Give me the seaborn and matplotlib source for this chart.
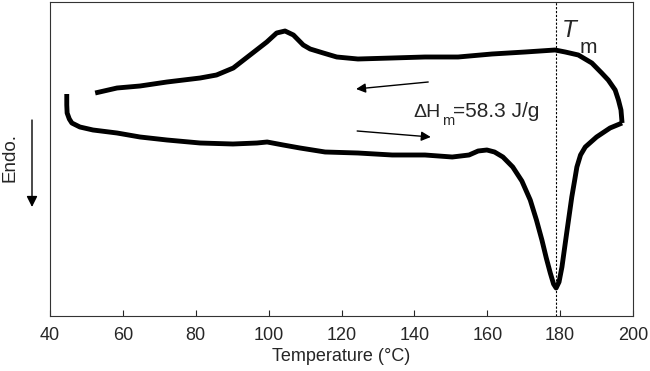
import matplotlib
matplotlib.use("Agg")
import matplotlib.pyplot as plt
import seaborn as sns
import pandas as pd

# ---- data (heat flow, arbitrary units; endo down) ----
heat_T = [44.6, 44.6, 44.7, 45.3, 46.0, 48.2, 51.8, 58.4, 64.7, 72.1, 81.2, 90.2, 96.8,
          99.6, 104.0, 108.6, 115.5, 124.5, 133.9, 142.9, 150.4, 155.0, 157.5, 159.9,
          162.0, 164.3, 167.0, 169.5, 171.8, 173.5, 175.0, 176.2, 177.3, 178.2, 178.9,
          179.7, 180.5, 181.8, 183.2, 184.0, 184.6, 185.6, 186.9, 190.0, 193.7, 197.0]
heat_q = [2.22, 2.11, 2.03, 1.97, 1.93, 1.89, 1.86, 1.83, 1.79, 1.76, 1.73, 1.72, 1.73,
          1.74, 1.71, 1.68, 1.64, 1.63, 1.61, 1.61, 1.59, 1.61, 1.65, 1.66,
          1.64, 1.59, 1.49, 1.35, 1.16, 0.96, 0.76, 0.58, 0.43, 0.32, 0.28,
          0.34, 0.49, 0.83, 1.19, 1.36, 1.49, 1.61, 1.69, 1.79, 1.88, 1.93]

cool_T = [197.0, 196.7, 196.0, 195.1, 193.2, 191.4, 188.7, 185.0, 181.4, 178.6,
          170.4, 161.3, 152.0, 142.9, 133.9, 124.5, 118.7, 115.0, 111.4, 109.5,
          106.8, 104.5, 102.2, 99.5, 94.9, 90.3, 85.7, 81.2, 72.1, 64.7, 58.4, 52.4]
cool_q = [1.93, 2.06, 2.16, 2.26, 2.36, 2.43, 2.53, 2.61, 2.64, 2.66,
          2.64, 2.62, 2.59, 2.59, 2.58, 2.57, 2.59, 2.63, 2.67, 2.71,
          2.81, 2.85, 2.83, 2.74, 2.61, 2.48, 2.41, 2.38, 2.34, 2.30, 2.28, 2.23]

Tm = 178.8
dH_main = "\u0394H"
dH_sub = "m"
dH_value = "=58.3 J/g"
x_ticks = [40, 60, 80, 100, 120, 140, 160, 180, 200]

# ---- style ----
sns.set_style("ticks")
plt.rcParams["font.family"] = ["Liberation Sans", "DejaVu Sans"]

fig = plt.figure(figsize=(6.5, 3.71), dpi=100)
ax = fig.add_axes([50 / 650, 1 - 316 / 371, (633 - 50) / 650, (316 - 2) / 371])

heat = pd.DataFrame({"T": heat_T, "q": heat_q})
cool = pd.DataFrame({"T": cool_T, "q": cool_q})
for df in (heat, cool):
    sns.lineplot(data=df, x="T", y="q", sort=False, estimator=None, ax=ax,
                 color="black", linewidth=3.5, solid_capstyle="butt",
                 solid_joinstyle="round")

ax.axvline(Tm, color="black", linestyle=(0, (2, 1.5)), linewidth=0.8)

ax.set_xlim(40, 200)
ax.set_ylim(0, 3.14)
ax.set_xticks(x_ticks)
ax.set_yticks([])
ax.tick_params(axis="x", direction="in", length=4.5, width=0.8, labelsize=13, pad=8)
for s in ax.spines.values():
    s.set_linewidth(0.8)
    s.set_color("#333333")
    s.set_visible(True)
ax.set_xlabel("Temperature (°C)", fontsize=13, labelpad=3)
ax.set_ylabel("")

# annotations
ax.text(180.6, 2.79, "T", fontsize=17.5, fontstyle="italic", ha="left", va="baseline")
ax.text(185.4, 2.63, "m", fontsize=15, ha="left", va="baseline")
ax.text(139.6, 1.99, dH_main, fontsize=14, ha="left", va="baseline")
ax.text(147.6, 1.91, dH_sub, fontsize=10.5, ha="left", va="baseline")
ax.text(150.6, 1.99, dH_value, fontsize=15, ha="left", va="baseline")
ax.annotate("", xy=(124.0, 2.27), xytext=(143.8, 2.34),
            arrowprops=dict(arrowstyle="-|>", color="black", lw=1.0,
                            mutation_scale=14, shrinkA=0, shrinkB=0))
ax.annotate("", xy=(144.5, 1.79), xytext=(124.3, 1.85),
            arrowprops=dict(arrowstyle="-|>", color="black", lw=1.0,
                            mutation_scale=14, shrinkA=0, shrinkB=0))

# Endo. label with arrow
fig.text(10 / 650, 1 - 158 / 371, "Endo.", rotation=90, fontsize=13.5,
         ha="center", va="center")
ax.annotate("", xy=(32 / 650, 1 - 207 / 371), xytext=(32 / 650, 1 - 120 / 371),
            xycoords="figure fraction", textcoords="figure fraction",
            arrowprops=dict(arrowstyle="-|>", color="black", lw=1.0,
                            mutation_scale=16, shrinkA=0, shrinkB=0),
            annotation_clip=False)

fig.savefig("out.png", dpi=100)
